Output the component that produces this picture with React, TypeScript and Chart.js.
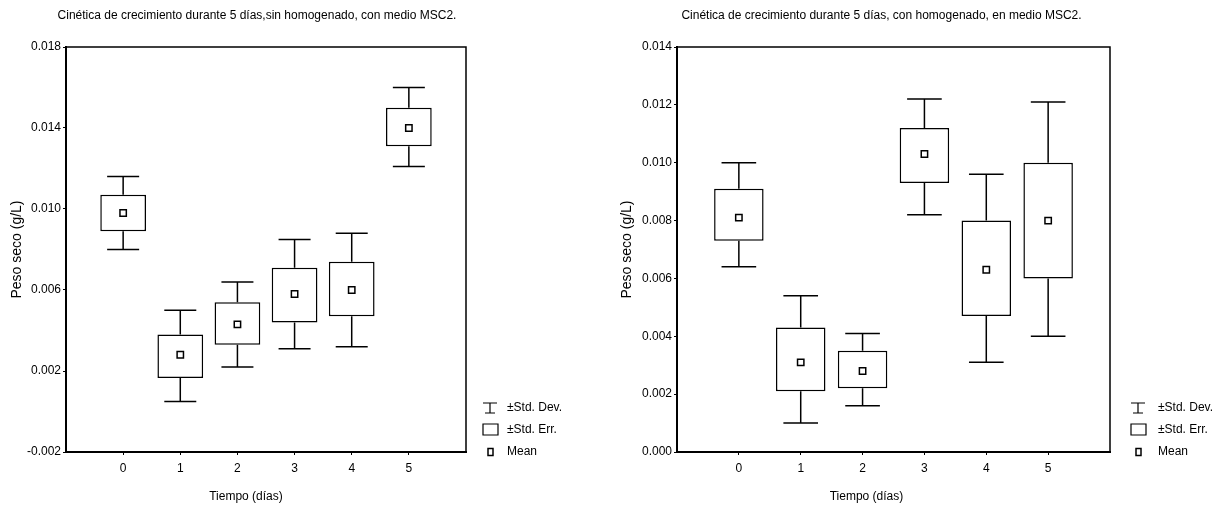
import React, { useEffect, useRef } from "react";
import { Chart, registerables } from "chart.js";
Chart.register(...registerables);

// ---- shared ----
const days = [0, 1, 2, 3, 4, 5];
const legendLabels = ["±Std. Dev.", "±Std. Err.", "Mean"];
const xTitle = "Tiempo (días)";
const yTitle = "Peso seco (g/L)";

// ---- left panel: sin homogenado ----
const leftTitle = "Cinética de crecimiento durante 5 días,sin homogenado, con medio MSC2.";
const leftMean = [0.0098, 0.0028, 0.0043, 0.0058, 0.006, 0.014];
const leftSeLow = [0.0089, 0.00165, 0.0033, 0.0044, 0.0047, 0.0131];
const leftSeHigh = [0.0107, 0.0038, 0.0054, 0.0071, 0.0074, 0.015];
const leftSdLow = [0.008, 0.0005, 0.0022, 0.0031, 0.0032, 0.0121];
const leftSdHigh = [0.0116, 0.005, 0.0064, 0.0085, 0.0088, 0.016];
const leftYTicks = [-0.002, 0.002, 0.006, 0.01, 0.014, 0.018];

// ---- right panel: con homogenado ----
const rightTitle = "Cinética de crecimiento durante 5 días, con homogenado, en medio MSC2.";
const rightMean = [0.0081, 0.0031, 0.0028, 0.0103, 0.0063, 0.008];
const rightSeLow = [0.0073, 0.0021, 0.0022, 0.0093, 0.0047, 0.006];
const rightSeHigh = [0.0091, 0.0043, 0.0035, 0.0112, 0.008, 0.01];
const rightSdLow = [0.0064, 0.001, 0.0016, 0.0082, 0.0031, 0.004];
const rightSdHigh = [0.01, 0.0054, 0.0041, 0.0122, 0.0096, 0.0121];
const rightYTicks = [0, 0.002, 0.004, 0.006, 0.008, 0.01, 0.012, 0.014];

const NARROW = "'Liberation Sans Narrow', 'Arial Narrow', 'Liberation Sans', Arial, sans-serif";
const SANS = "'Liberation Sans', Arial, sans-serif";

type Panel = {
  title: string;
  mean: number[];
  seLow: number[];
  seHigh: number[];
  sdLow: number[];
  sdHigh: number[];
  yTicks: number[];
  width: number;
  padLeft: number; // y-axis width
  padRight: number;
  legendIconDx: number;
  legendTextDx: number;
  xTitleDx: number;
  titleDx: number;
};

const boxPlugin = {
  id: "boxDecor",
  afterDatasetsDraw(chart: any, _args: any, opts: any) {
    const p: Panel = opts.panel;
    const ctx = chart.ctx;
    const xs = chart.scales.x;
    const ys = chart.scales.y;
    const unit = xs.getPixelForValue(1) - xs.getPixelForValue(0);
    const half = (unit * 0.56) / 2;
    ctx.save();
    ctx.strokeStyle = "#000";
    ctx.lineWidth = 1.5;
    days.forEach((d, i) => {
      const x = xs.getPixelForValue(d);
      const a = ys.getPixelForValue(p.seHigh[i]);
      const b = ys.getPixelForValue(p.sdHigh[i]);
      const c = ys.getPixelForValue(p.seLow[i]);
      const e = ys.getPixelForValue(p.sdLow[i]);
      ctx.beginPath();
      ctx.moveTo(x, a);
      ctx.lineTo(x, b);
      ctx.moveTo(x - half, b);
      ctx.lineTo(x + half, b);
      ctx.moveTo(x, c);
      ctx.lineTo(x, e);
      ctx.moveTo(x - half, e);
      ctx.lineTo(x + half, e);
      ctx.stroke();
    });
    ctx.restore();
  },
  afterDraw(chart: any, _args: any, opts: any) {
    const p: Panel = opts.panel;
    const ctx = chart.ctx;
    const area = chart.chartArea;
    ctx.save();
    // frame top & right
    ctx.strokeStyle = "#000";
    ctx.lineWidth = 1.5;
    ctx.beginPath();
    ctx.moveTo(area.left, area.top);
    ctx.lineTo(area.right, area.top);
    ctx.lineTo(area.right, area.bottom);
    ctx.stroke();
    // title
    ctx.fillStyle = "#000";
    ctx.textAlign = "center";
    ctx.textBaseline = "middle";
    ctx.font = `12px ${NARROW}`;
    ctx.fillText(p.title, (area.left + area.right) / 2 + p.titleDx, 16);
    // x title
    ctx.font = `12px ${NARROW}`;
    ctx.fillText(xTitle, (area.left + area.right) / 2 + p.xTitleDx, 497);
    // y title
    ctx.save();
    ctx.translate(17, (area.top + area.bottom) / 2);
    ctx.rotate(-Math.PI / 2);
    ctx.font = `14px ${SANS}`;
    ctx.fillText(yTitle, 0, 0);
    ctx.restore();
    // legend
    const ix = area.right + p.legendIconDx;
    const tx = area.right + p.legendTextDx;
    const rows = [408, 430, 452];
    ctx.lineWidth = 1.2;
    // std dev icon
    let y = rows[0];
    ctx.beginPath();
    ctx.moveTo(ix, y - 5);
    ctx.lineTo(ix + 14, y - 5);
    ctx.moveTo(ix + 7, y - 5);
    ctx.lineTo(ix + 7, y + 5);
    ctx.moveTo(ix + 2, y + 5);
    ctx.lineTo(ix + 12, y + 5);
    ctx.stroke();
    // std err icon
    y = rows[1];
    ctx.beginPath();
    ctx.rect(ix, y - 6, 15, 11);
    ctx.stroke();
    // mean icon
    y = rows[2];
    ctx.lineWidth = 1.5;
    ctx.strokeRect(ix + 5, y - 3.5, 5, 7);
    ctx.textAlign = "left";
    ctx.font = `12px ${NARROW}`;
    legendLabels.forEach((l, k) => ctx.fillText(l, tx, rows[k]));
    ctx.restore();
  },
};

function makeConfig(p: Panel): any {
  const yMin = p.yTicks[0];
  const yMax = p.yTicks[p.yTicks.length - 1];
  return {
    type: "bar",
    data: {
      datasets: [
        {
          type: "bar",
          data: days.map((d, i) => ({ x: d, y: [p.seLow[i], p.seHigh[i]] })),
          backgroundColor: "#fff",
          borderColor: "#000",
          borderWidth: 1.5,
          borderSkipped: false,
          barPercentage: 0.8,
          categoryPercentage: 1,
          order: 2,
        },
        {
          type: "line",
          data: days.map((d, i) => ({ x: d, y: p.mean[i] })),
          showLine: false,
          pointStyle: "rect",
          pointRadius: 4.5,
          pointBackgroundColor: "#fff",
          pointBorderColor: "#000",
          pointBorderWidth: 1.5,
          order: 1,
        },
      ],
    },
    options: {
      responsive: false,
      animation: false,
      events: [],
      layout: { padding: { left: 0, top: 47, right: p.padRight, bottom: 0 } },
      plugins: {
        legend: { display: false },
        tooltip: { enabled: false },
        title: { display: false },
        boxDecor: { panel: p },
      },
      scales: {
        x: {
          type: "linear",
          min: -1,
          max: 6,
          offset: false,
          afterFit: (s: any) => {
            s.height = 61;
          },
          afterBuildTicks: (s: any) => {
            s.ticks = days.map((v) => ({ value: v }));
          },
          grid: {
            display: true,
            offset: false,
            drawOnChartArea: false,
            drawTicks: true,
            tickLength: 3,
            color: "#000",
          },
          border: { display: true, color: "#000", width: 2 },
          ticks: {
            color: "#000",
            font: { family: NARROW, size: 12 },
            padding: 6,
            maxRotation: 0,
            callback: (v: any) => String(v),
          },
        },
        y: {
          type: "linear",
          min: yMin,
          max: yMax,
          afterFit: (s: any) => {
            s.width = p.padLeft;
          },
          afterBuildTicks: (s: any) => {
            s.ticks = p.yTicks.map((v) => ({ value: v }));
          },
          grid: { display: true, drawOnChartArea: false, drawTicks: true, tickLength: 3, color: "#000" },
          border: { display: true, color: "#000", width: 2 },
          ticks: {
            color: "#000",
            font: { family: NARROW, size: 12 },
            padding: 2,
            callback: (v: any) => Number(v).toFixed(3),
          },
        },
      },
    },
    plugins: [boxPlugin],
  };
}

const leftPanel: Panel = {
  title: leftTitle,
  mean: leftMean,
  seLow: leftSeLow,
  seHigh: leftSeHigh,
  sdLow: leftSdLow,
  sdHigh: leftSdHigh,
  yTicks: leftYTicks,
  width: 610,
  padLeft: 66,
  padRight: 144,
  legendIconDx: 17,
  legendTextDx: 41,
  xTitleDx: -20,
  titleDx: -9,
};

const rightPanel: Panel = {
  title: rightTitle,
  mean: rightMean,
  seLow: rightSeLow,
  seHigh: rightSeHigh,
  sdLow: rightSdLow,
  sdHigh: rightSdHigh,
  yTicks: rightYTicks,
  width: 617,
  padLeft: 67,
  padRight: 117,
  legendIconDx: 21,
  legendTextDx: 48,
  xTitleDx: -27,
  titleDx: -12,
};

function BoxChart({ panel, left }: { panel: Panel; left: number }) {
  const ref = useRef<HTMLCanvasElement | null>(null);
  useEffect(() => {
    if (!ref.current) return;
    const chart = new Chart(ref.current, makeConfig(panel));
    return () => chart.destroy();
  }, [panel]);
  return (
    <div style={{ position: "absolute", left, top: 0, width: panel.width, height: 513 }}>
      <canvas ref={ref} width={panel.width} height={513} style={{ display: "block" }} />
    </div>
  );
}

export default function App() {
  return (
    <div
      style={{
        position: "fixed",
        left: 0,
        top: 0,
        width: 1227,
        height: 513,
        background: "#fff",
        overflow: "hidden",
      }}
    >
      <BoxChart panel={leftPanel} left={0} />
      <BoxChart panel={rightPanel} left={610} />
    </div>
  );
}
